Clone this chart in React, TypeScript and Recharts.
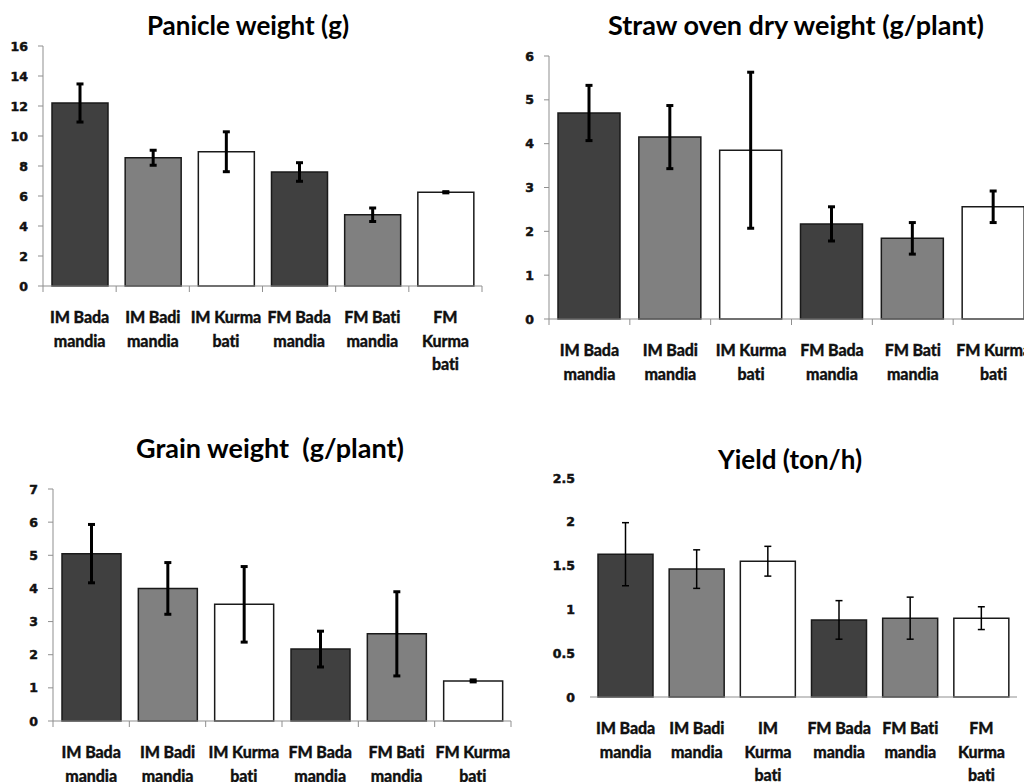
import React from "react";
import { BarChart, Bar, XAxis, YAxis, ErrorBar, Cell } from "recharts";

// varieties, in plotting order
const categories = [
  "IM Bada mandia",
  "IM Badi mandia",
  "IM Kurma bati",
  "FM Bada mandia",
  "FM Bati mandia",
  "FM Kurma bati",
];

// how each category name is broken onto lines under the bars
const labelsPanicle = [
  ["IM Bada", "mandia"],
  ["IM Badi", "mandia"],
  ["IM Kurma", "bati"],
  ["FM Bada", "mandia"],
  ["FM Bati", "mandia"],
  ["FM", "Kurma", "bati"],
];
const labelsWide = [
  ["IM Bada", "mandia"],
  ["IM Badi", "mandia"],
  ["IM Kurma", "bati"],
  ["FM Bada", "mandia"],
  ["FM Bati", "mandia"],
  ["FM Kurma", "bati"],
];
const labelsYield = [
  ["IM Bada", "mandia"],
  ["IM Badi", "mandia"],
  ["IM", "Kurma", "bati"],
  ["FM Bada", "mandia"],
  ["FM Bati", "mandia"],
  ["FM", "Kurma", "bati"],
];

const panicleWeight = [12.2, 8.55, 8.95, 7.6, 4.75, 6.25];
const panicleErr = [1.27, 0.5, 1.33, 0.62, 0.45, 0.04];

const strawWeight = [4.7, 4.15, 3.85, 2.17, 1.84, 2.56];
const strawErr = [0.63, 0.72, 1.78, 0.39, 0.36, 0.36];

const grainWeight = [5.05, 4.0, 3.52, 2.17, 2.63, 1.21];
const grainErr = [0.88, 0.78, 1.14, 0.54, 1.27, 0.03];

const yieldTon = [1.63, 1.46, 1.55, 0.88, 0.9, 0.9];
const yieldErr = [0.36, 0.22, 0.17, 0.22, 0.24, 0.13];

const panicleTicks = [0, 2, 4, 6, 8, 10, 12, 14, 16];
const strawTicks = [0, 1, 2, 3, 4, 5, 6];
const grainTicks = [0, 1, 2, 3, 4, 5, 6, 7];
const yieldTicks = [0, 0.5, 1, 1.5, 2, 2.5];

const barFills = ["#404040", "#808080", "#ffffff", "#404040", "#808080", "#ffffff"];

const axisGrey = "#8f8f8f";
const inkColor = "#111111";

type Box = { left: number; top: number; width: number; height: number };
type Plot = { left: number; right: number; top: number; bottom: number };

const CategoryTick = (props: any) => {
  const { x, y, index, lines, band, markLen } = props;
  const rows: string[] = lines[index] || [];
  const half = band / 2;
  return (
    <g>
      {markLen > 0 && (
        <line x1={x - half} x2={x - half} y1={y} y2={y + markLen} stroke={axisGrey} />
      )}
      {markLen > 0 && index === lines.length - 1 && (
        <line x1={x + half} x2={x + half} y1={y} y2={y + markLen} stroke={axisGrey} />
      )}
      <text
        x={x}
        y={y + 37}
        textAnchor="middle"
        fontFamily="Lato"
        fontWeight={900}
        fontSize={16}
        letterSpacing={-0.1}
        stroke={inkColor}
        strokeWidth={0.3}
        fill={inkColor}
      >
        {rows.map((r, i) => (
          <tspan key={i} x={x} dy={i === 0 ? 0 : 23.5}>
            {r}
          </tspan>
        ))}
      </text>
    </g>
  );
};

const ValueTick = (props: any) => {
  const { x, y, payload } = props;
  return (
    <text
      x={x}
      y={y}
      dy={4.5}
      textAnchor="end"
      fontFamily="DejaVu Sans"
      fontWeight="bold"
      fontSize={12.5}
      stroke={inkColor}
      strokeWidth={0.5}
      fill={inkColor}
    >
      {String(payload.value)}
    </text>
  );
};

type PanelProps = {
  box: Box;
  plot: Plot;
  values: number[];
  errors: number[];
  lines: string[][];
  ticks: number[];
  barSize: number;
  errStroke: number;
  framed: boolean;
};

function Panel({ box, plot, values, errors, lines, ticks, barSize, errStroke, framed }: PanelProps) {
  const data = categories.map((name, i) => ({ name, value: values[i], err: errors[i] }));
  const yWidth = plot.left - box.left;
  const xHeight = box.top + box.height - plot.bottom;
  const band = (plot.right - plot.left) / categories.length;
  return (
    <div style={{ position: "absolute", left: box.left, top: box.top }}>
      <BarChart
        width={box.width}
        height={box.height}
        data={data}
        margin={{ top: plot.top - box.top, right: box.left + box.width - plot.right, bottom: 0, left: 0 }}
      >
        <XAxis
          dataKey="name"
          type="category"
          height={xHeight}
          interval={0}
          axisLine={{ stroke: axisGrey }}
          tickLine={false}
          tickSize={0}
          tickMargin={0}
          tick={<CategoryTick lines={lines} band={band} markLen={framed ? 6 : 0} />}
        />
        <YAxis
          type="number"
          width={yWidth}
          domain={[ticks[0], ticks[ticks.length - 1]]}
          ticks={ticks}
          interval={0}
          axisLine={framed ? { stroke: axisGrey } : false}
          tickLine={framed ? { stroke: axisGrey } : false}
          tickSize={framed ? 5 : 0}
          tickMargin={framed ? 10 : 15}
          tick={<ValueTick />}
        />
        <Bar
          dataKey="value"
          barSize={barSize}
          stroke="#1a1a1a"
          strokeWidth={1.5}
          isAnimationActive={false}
        >
          {data.map((d, i) => (
            <Cell key={d.name} fill={barFills[i]} />
          ))}
          <ErrorBar dataKey="err" direction="y" width={3.5} stroke="#000" strokeWidth={errStroke} />
        </Bar>
      </BarChart>
    </div>
  );
}

const titleStyle = { fontFamily: "Lato", fontWeight: 700, fill: "#000" } as const;

export default function App() {
  return (
    <div
      style={{
        position: "absolute",
        left: 0,
        top: 0,
        width: 1024,
        height: 782,
        overflow: "hidden",
        background: "#fff",
      }}
    >
      <Panel
        box={{ left: 0, top: 0, width: 500, height: 390 }}
        plot={{ left: 43, right: 482, top: 46, bottom: 286 }}
        values={panicleWeight}
        errors={panicleErr}
        lines={labelsPanicle}
        ticks={panicleTicks}
        barSize={56}
        errStroke={3}
        framed
      />
      <Panel
        box={{ left: 500, top: 0, width: 540, height: 390 }}
        plot={{ left: 549, right: 1034, top: 56, bottom: 319 }}
        values={strawWeight}
        errors={strawErr}
        lines={labelsWide}
        ticks={strawTicks}
        barSize={62}
        errStroke={3}
        framed
      />
      <Panel
        box={{ left: 0, top: 390, width: 520, height: 392 }}
        plot={{ left: 53, right: 511, top: 489, bottom: 721 }}
        values={grainWeight}
        errors={grainErr}
        lines={labelsWide}
        ticks={grainTicks}
        barSize={59}
        errStroke={3}
        framed
      />
      <Panel
        box={{ left: 520, top: 390, width: 504, height: 392 }}
        plot={{ left: 590, right: 1017, top: 478, bottom: 697 }}
        values={yieldTon}
        errors={yieldErr}
        lines={labelsYield}
        ticks={yieldTicks}
        barSize={55}
        errStroke={1.5}
        framed={false}
      />
      <svg
        width={1024}
        height={782}
        style={{ position: "absolute", left: 0, top: 0, pointerEvents: "none" }}
      >
        <text x={248} y={35} textAnchor="middle" fontSize={26} {...titleStyle}>
          Panicle weight (g)
        </text>
        <text x={796} y={35} textAnchor="middle" fontSize={27} {...titleStyle}>
          Straw oven dry weight (g/plant)
        </text>
        <text x={270} y={458} textAnchor="middle" fontSize={27} {...titleStyle} style={{ whiteSpace: "pre" }}>
          {"Grain weight  (g/plant)"}
        </text>
        <text x={790} y={469} textAnchor="middle" fontSize={26} {...titleStyle}>
          Yield (ton/h)
        </text>
      </svg>
    </div>
  );
}
